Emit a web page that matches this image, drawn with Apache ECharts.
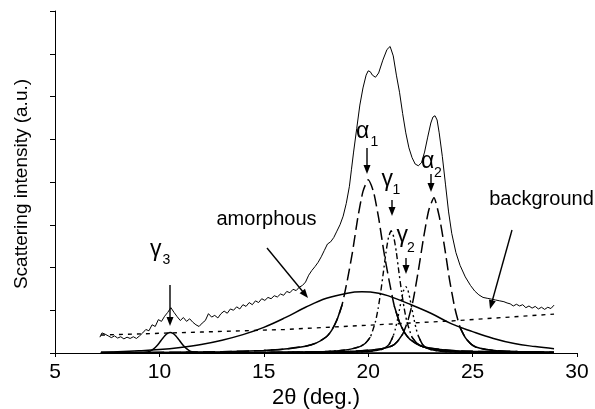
<!DOCTYPE html>
<html><head><meta charset="utf-8">
<script src="https://cdn.jsdelivr.net/npm/echarts@6/dist/echarts.min.js"></script>
<style>html,body{margin:0;padding:0;background:#fff}#c{width:595px;height:409px}</style>
</head><body><div id="c"></div>
<script>
// ---- data (2θ in degrees, intensity in arbitrary units) ----
const xTicks = [5, 10, 15, 20, 25, 30];

const rawScan = [[7.15,0.37],[7.25,0.47],[7.4,0.44],[7.55,0.40],[7.7,0.36],[7.85,0.40],[8.0,0.35],[8.15,0.38],[8.3,0.33],[8.45,0.37],[8.6,0.34],[8.75,0.38],[8.9,0.34],[9.05,0.40],[9.2,0.47],[9.35,0.55],[9.5,0.52],[9.65,0.66],[9.8,0.62],[9.95,0.78],[10.1,0.74],[10.25,0.86],[10.4,0.95],[10.55,1.06],[10.7,0.95],[10.85,0.85],[11.0,0.76],[11.15,0.83],[11.3,0.74],[11.45,0.80],[11.6,0.72],[11.75,0.66],[11.9,0.62],[12.05,0.70],[12.2,0.76],[12.35,0.92],[12.5,0.84],[12.65,0.88],[12.8,0.82],[12.95,0.92],[13.1,0.98],[13.25,0.93],[13.4,1.03],[13.55,1.00],[13.7,1.08],[13.85,1.03],[14.0,1.13],[14.15,1.09],[14.3,1.18],[14.45,1.13],[14.6,1.22],[14.75,1.18],[14.9,1.27],[15.05,1.23],[15.2,1.30],[15.35,1.27],[15.5,1.34],[15.65,1.31],[15.8,1.38],[15.95,1.35],[16.1,1.44],[16.25,1.41],[16.4,1.49],[16.55,1.46],[16.7,1.54],[16.85,1.58],[17.0,1.66],[17.15,1.82],[17.3,1.93],[17.45,2.02],[17.6,2.12],[17.75,2.25],[17.9,2.40],[18.05,2.55],[18.2,2.60],[18.35,2.70],[18.5,2.85],[18.65,3.00],[18.8,3.20],[18.95,3.50],[19.1,3.90],[19.2,4.30],[19.3,4.70],[19.45,5.25],[19.6,5.80],[19.75,6.20],[19.9,6.50],[20.0,6.60],[20.1,6.58],[20.2,6.50],[20.35,6.45],[20.5,6.55],[20.7,6.85],[20.9,7.10],[21.05,7.17],[21.2,6.95],[21.35,6.50],[21.5,6.10],[21.65,5.60],[21.8,5.15],[21.95,4.80],[22.1,4.57],[22.25,4.42],[22.4,4.38],[22.55,4.45],[22.7,4.70],[22.85,5.05],[23.0,5.38],[23.1,5.52],[23.2,5.55],[23.3,5.45],[23.4,5.15],[23.55,4.60],[23.7,3.95],[23.85,3.30],[24.0,2.80],[24.2,2.35],[24.4,2.05],[24.65,1.78],[24.9,1.58],[25.1,1.45],[25.3,1.36],[25.5,1.30],[25.7,1.28],[25.9,1.26],[26.1,1.24],[26.3,1.22],[26.5,1.20],[26.65,1.17],[26.8,1.15],[26.95,1.10],[27.1,1.14],[27.25,1.10],[27.4,1.13],[27.55,1.06],[27.7,1.10],[27.85,1.05],[28.0,1.09],[28.15,1.03],[28.3,1.07],[28.45,1.02],[28.6,1.07],[28.75,1.04],[28.9,1.12]];

const backgroundLine = [[7.2,0.42],[12,0.49],[16,0.55],[20,0.65],[24,0.75],[28.9,0.91]];

const amorphousHalo = [[7.2,0.02],[8,0.03],[9,0.05],[10,0.08],[11,0.13],[12,0.2],[13,0.3],[14,0.43],[15,0.6],[16,0.82],[17,1.07],[18,1.28],[19,1.4],[19.7,1.43],[20.5,1.4],[21,1.33],[22,1.14],[23,0.93],[24,0.68],[25,0.5],[26,0.34],[27,0.22],[28,0.15],[28.9,0.1]];

const alpha1 = [[7.2,0.01],[11,0.017],[13,0.03],[15,0.06],[16,0.093],[17,0.16],[17.5,0.23],[18,0.38],[18.25,0.53],[18.5,0.77],[18.75,1.13],[19,1.70],[19.25,2.37],[19.5,3.16],[19.75,3.78],[20,4.05],[20.25,3.78],[20.5,3.16],[20.75,2.37],[21,1.70],[21.25,1.10],[21.5,0.72],[21.75,0.47],[22,0.32],[22.5,0.17],[23,0.11],[24,0.06],[25,0.04],[27,0.02],[28.9,0.01]];

const alpha2 = [[7.2,0.005],[15.15,0.015],[19.15,0.04],[20.15,0.07],[20.65,0.10],[21.15,0.17],[21.4,0.27],[21.65,0.44],[21.9,0.76],[22.15,1.23],[22.4,1.92],[22.65,2.69],[22.9,3.34],[23.15,3.63],[23.4,3.2],[23.65,2.5],[23.9,1.7],[24.15,1.05],[24.4,0.6],[24.65,0.36],[24.9,0.22],[25.15,0.14],[25.65,0.08],[26.15,0.055],[27.15,0.035],[28.9,0.02]];

const gamma1 = [[7.2,0.002],[15.1,0.01],[17.1,0.022],[18.1,0.039],[18.6,0.055],[19.1,0.084],[19.6,0.15],[19.85,0.22],[20.1,0.37],[20.35,0.74],[20.475,1.04],[20.6,1.43],[20.725,1.88],[20.85,2.35],[20.975,2.71],[21.1,2.86],[21.225,2.71],[21.35,2.35],[21.475,1.88],[21.6,1.43],[21.725,1.04],[21.85,0.74],[22.1,0.37],[22.35,0.22],[22.6,0.15],[23.1,0.084],[23.6,0.055],[24.1,0.039],[25.1,0.022],[27.1,0.01],[28.9,0.006]];

const gamma2 = [[7.2,0.001],[15.4,0.003],[18.6,0.012],[19.8,0.03],[20.2,0.046],[20.6,0.079],[20.8,0.117],[21.0,0.20],[21.2,0.40],[21.3,0.56],[21.4,0.775],[21.5,1.02],[21.6,1.27],[21.7,1.47],[21.8,1.55],[21.9,1.47],[22.0,1.27],[22.1,1.02],[22.2,0.775],[22.3,0.56],[22.4,0.40],[22.6,0.20],[22.8,0.117],[23.0,0.079],[23.4,0.046],[23.8,0.03],[25.0,0.012],[28.9,0.0025]];

const gamma3 = [[7.2,0.002],[8.96,0.004],[9.22,0.008],[9.48,0.03],[9.61,0.057],[9.74,0.101],[9.87,0.163],[10.0,0.24],[10.13,0.325],[10.26,0.404],[10.39,0.46],[10.52,0.48],[10.65,0.46],[10.78,0.404],[10.91,0.325],[11.04,0.24],[11.17,0.163],[11.3,0.101],[11.43,0.057],[11.56,0.03],[11.82,0.008],[12.08,0.004],[28.9,0.001]];

// ---- presentation ----
const FONT = '"Liberation Sans", Arial, sans-serif';
const chart = echarts.init(document.getElementById('c'), null, {renderer: 'canvas'});

function lineSeries(data, dash, width, smooth, z) {
  return {
    type: 'line', data: data, showSymbol: false, symbol: 'none',
    smooth: smooth || false, silent: true, animation: false, z: z || 2,
    connectNulls: false,
    lineStyle: {color: '#000', width: width, type: dash, cap: 'butt'}
  };
}
// Low-intensity part of a fitted peak drawn solid (as in the original plot)
function lowPart(data, thr) {
  return data.map(p => (p[1] <= thr ? p : [p[0], null]));
}

function arrow(x1, y1, x2, y2) {
  const dx = x2 - x1, dy = y2 - y1, L = Math.hypot(dx, dy);
  const ux = dx / L, uy = dy / L, hl = 9, hw = 3.5;
  const bx = x2 - ux * hl, by = y2 - uy * hl;
  return [
    {type: 'line', silent: true, shape: {x1: x1, y1: y1, x2: bx + ux, y2: by + uy}, style: {stroke: '#000', lineWidth: 1.4}},
    {type: 'polygon', silent: true, shape: {points: [[x2, y2], [bx - uy * hw, by + ux * hw], [bx + uy * hw, by - ux * hw]]}, style: {fill: '#000'}}
  ];
}
function txt(text, x, y, size, align, extra) {
  return Object.assign({
    type: 'text', x: x, y: y, silent: true,
    style: {text: text, font: size + 'px ' + FONT, fill: '#000',
            align: align, textAlign: align, verticalAlign: 'middle', textVerticalAlign: 'middle'}
  }, extra || {});
}

const annotationArrows = [
  [170, 285, 170, 326],      // γ3
  [267, 248, 308, 298],      // amorphous
  [367, 148, 367, 174],      // α1
  [392, 200, 392, 216],      // γ1
  [406, 258, 406, 274],      // γ2
  [431, 174, 431, 192],      // α2
  [512, 230, 490, 309]       // background
];

let graphics = [];
annotationArrows.forEach(a => { graphics = graphics.concat(arrow(a[0], a[1], a[2], a[3])); });
graphics.push(
  txt('amorphous', 266.5, 219.5, 20, 'center'),
  txt('background', 541.5, 199, 20, 'center'),
  txt('γ', 150, 250, 23, 'left'), txt('3', 162.5, 260, 14, 'left'),
  txt('α', 356, 132, 23, 'left'), txt('1', 370.5, 141.8, 14, 'left'),
  txt('α', 421, 162, 23, 'left'), txt('2', 434, 173, 14, 'left'),
  txt('γ', 381.5, 180, 23, 'left'), txt('1', 392.5, 190, 14, 'left'),
  txt('γ', 396.5, 236, 23, 'left'), txt('2', 407, 248, 14, 'left'),
  txt('2θ (deg.)', 316, 398, 22, 'center'),
  txt('Scattering intensity (a.u.)', 22, 184, 19, 'center', {rotation: Math.PI / 2})
);

chart.setOption({
  backgroundColor: '#fff',
  animation: false,
  grid: {left: 55, right: 18, top: 11, bottom: 56},
  xAxis: {
    type: 'value', min: xTicks[0], max: xTicks[xTicks.length - 1], interval: 5,
    axisLine: {show: true, onZero: false, lineStyle: {color: '#000', width: 1}},
    axisTick: {show: true, inside: false, length: 4, lineStyle: {color: '#000', width: 1}},
    axisLabel: {show: true, color: '#000', fontSize: 21, fontFamily: FONT, margin: 9},
    splitLine: {show: false}
  },
  yAxis: {
    type: 'value', min: 0, max: 8, interval: 1,
    axisLine: {show: true, lineStyle: {color: '#000', width: 1}},
    axisTick: {show: true, inside: false, length: 5, lineStyle: {color: '#000', width: 1}},
    axisLabel: {show: false},
    splitLine: {show: false}
  },
  series: [
    lineSeries(rawScan, 'solid', 1, false, 3),
    lineSeries(backgroundLine, [4, 5], 1.4, false, 2),
    lineSeries(amorphousHalo, 'solid', 1.5, 0.4, 2),
    lineSeries(alpha1, [12, 5], 1.5, 0.2, 2),
    lineSeries(lowPart(alpha1, 1.2), 'solid', 1.5, 0.2, 2),
    lineSeries(alpha2, [12, 5], 1.5, 0.2, 2),
    lineSeries(lowPart(alpha2, 0.75), 'solid', 1.5, 0.2, 2),
    lineSeries(gamma1, [6, 3, 2, 3], 1.4, 0.2, 2),
    lineSeries(lowPart(gamma1, 0.6), 'solid', 1.4, 0.2, 2),
    lineSeries(gamma2, [2, 3], 1.4, 0.2, 2),
    lineSeries(lowPart(gamma2, 0.45), 'solid', 1.4, 0.2, 2),
    lineSeries(gamma3, 'solid', 1.5, 0.2, 2)
  ],
  graphic: graphics
});
</script>
</body></html>
